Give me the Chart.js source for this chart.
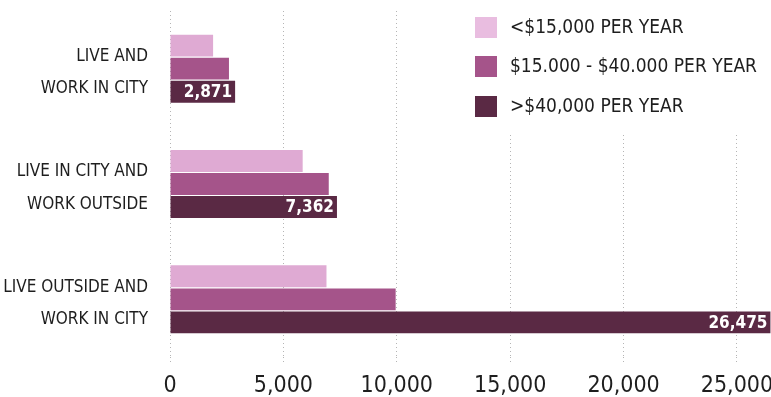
<!DOCTYPE html>
<html>
<head>
<meta charset="utf-8">
<script src="https://cdn.jsdelivr.net/npm/chart.js@4/dist/chart.umd.min.js"></script>
<style>
    html, body { margin: 0; padding: 0; background: #fff; }
    #wrap { width: 771px; height: 397px; }
</style>
</head>
<body>
<div id="wrap"><canvas id="commuteChart" width="771" height="397"></canvas></div>
<script>
const categories = [
    ['LIVE AND', 'WORK IN CITY'],
    ['LIVE IN CITY AND', 'WORK OUTSIDE'],
    ['LIVE OUTSIDE AND', 'WORK IN CITY']
];
const seriesNames = ['<$15,000 PER YEAR', '$15.000 - $40.000 PER YEAR', '>$40,000 PER YEAR'];
const lowIncome = [1900, 5850, 6900];
const midIncome = [2600, 7000, 9950];
const highIncome = [2871, 7362, 26475];
const xTicks = [0, 5000, 10000, 15000, 20000, 25000];

const FONT = '"DejaVu Sans Condensed", "Liberation Sans Narrow", sans-serif';
const colors = ['#dfaad3', '#a5548a', '#5a2944'];

// legend drawn in the top right corner over the grid, stacked like the original
const legendBox = {
    id: 'legendBox',
    afterDraw(chart) {
        const ctx = chart.ctx;
        ctx.save();
        ctx.fillStyle = '#fff';
        ctx.fillRect(462, 0, 309, 134);
        ctx.font = '19px ' + FONT;
        ctx.textBaseline = 'middle';
        ctx.textAlign = 'left';
        const rows = [27, 66, 106];
        chart.data.datasets.forEach((ds, i) => {
            ctx.fillStyle = i === 0 ? '#e9bde0' : ds.backgroundColor;
            ctx.fillRect(475, rows[i] - 10, 22, 21);
            ctx.fillStyle = '#1e1e1e';
            ctx.fillText(ds.label, 510, rows[i] + 1);
        });
        ctx.restore();
    }
};

const valueLabels = {
    id: 'valueLabels',
    afterDatasetsDraw(chart) {
        const ctx = chart.ctx;
        const meta = chart.getDatasetMeta(2);
        ctx.save();
        ctx.font = 'bold 17px ' + FONT;
        ctx.fillStyle = '#fff';
        ctx.textAlign = 'right';
        ctx.textBaseline = 'middle';
        meta.data.forEach((bar, i) => {
            ctx.fillText(highIncome[i].toLocaleString('en-US'), bar.x - 3, bar.y + 1);
        });
        ctx.restore();
    }
};

new Chart(document.getElementById('commuteChart'), {
    type: 'bar',
    data: {
        labels: categories,
        datasets: [
            { label: seriesNames[0], data: lowIncome, backgroundColor: colors[0] },
            { label: seriesNames[1], data: midIncome, backgroundColor: colors[1] },
            { label: seriesNames[2], data: highIncome, backgroundColor: colors[2] }
        ]
    },
    options: {
        indexAxis: 'y',
        responsive: false,
        animation: false,
        devicePixelRatio: 1,
        layout: { padding: { top: 11, right: 0, left: 0, bottom: 0 } },
        datasets: {
            bar: { categoryPercentage: 0.6, barPercentage: 0.95 }
        },
        plugins: {
            legend: { display: false },
            tooltip: { enabled: false }
        },
        scales: {
            x: {
                min: 0,
                max: 26500,
                afterBuildTicks(scale) {
                    scale.ticks = xTicks.map(v => ({ value: v }));
                },
                afterFit(scale) {
                    scale.height = 40;
                    scale.paddingLeft = 0;
                    scale.paddingRight = 0;
                },
                grid: {
                    color: '#b5b5b5',
                    tickColor: '#b5b5b5',
                    tickLength: 8,
                    tickBorderDash: [1, 3]
                },
                border: { display: false, dash: [1, 3] },
                ticks: {
                    padding: 7,
                    color: '#1e1e1e',
                    font: { family: FONT, size: 23 },
                    callback: v => Number(v).toLocaleString('en-US')
                }
            },
            y: {
                afterFit(scale) {
                    scale.width = 170;
                    scale.paddingTop = 0;
                    scale.paddingBottom = 0;
                },
                grid: { display: false, drawTicks: false },
                border: { display: false },
                ticks: {
                    padding: 22,
                    labelOffset: 4,
                    color: '#1e1e1e',
                    font: { family: FONT, size: 17, lineHeight: 1.9 }
                }
            }
        }
    },
    plugins: [valueLabels, legendBox]
});
</script>
</body>
</html>
